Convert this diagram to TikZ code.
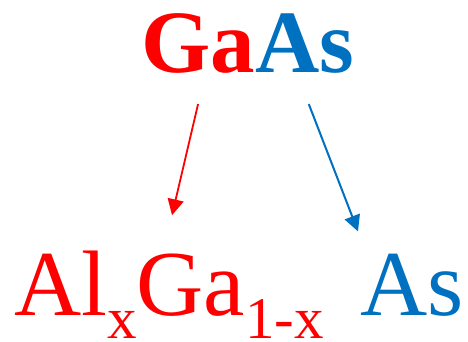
\documentclass[tikz,border=0pt]{standalone}
\usepackage{fontspec}
\setmainfont{Liberation Serif}
\usetikzlibrary{arrows.meta}
\definecolor{elemred}{RGB}{255,0,0}
\definecolor{elemblue}{RGB}{0,112,192}
\newcommand{\bigtxt}{\fontsize{93}{93}\selectfont}
\newcommand{\lowsub}[1]{\raisebox{-23pt}{\fontsize{59}{59}\selectfont #1}}

\begin{document}
\begin{tikzpicture}[x=1pt,y=1pt,
    formula/.style={inner sep=0pt,anchor=base west},
    redarrow/.style={draw=elemred,line width=1.8pt,-{Triangle[length=16pt,width=16pt]}},
    bluearrow/.style={draw=elemblue,line width=2pt,-{Triangle[length=16pt,width=16pt]}}
]
\useasboundingbox (0,0) rectangle (468,-342);

\node[formula,text=elemred,font=\bfseries\fontsize{89}{89}\selectfont] (gatop) at (141,-73) {Ga};
\node[formula,text=elemblue,font=\bfseries\fontsize{89}{89}\selectfont] (astop) at (gatop.base east) {As};

\node[formula,text=elemred] (algabot) at (14,-315) {\bigtxt Al\lowsub{x}Ga\lowsub{1-x}};
\node[formula,text=elemblue] (asbot) at (360,-315) {\bigtxt As};

\draw[redarrow] ([yshift=-30pt]gatop.south) -- ([xshift=158pt,yshift=35pt]algabot.north west);
\draw[bluearrow] ([xshift=4pt,yshift=-30pt]astop.south) -- ([xshift=-2pt,yshift=22pt]asbot.north west);
\end{tikzpicture}
\end{document}
